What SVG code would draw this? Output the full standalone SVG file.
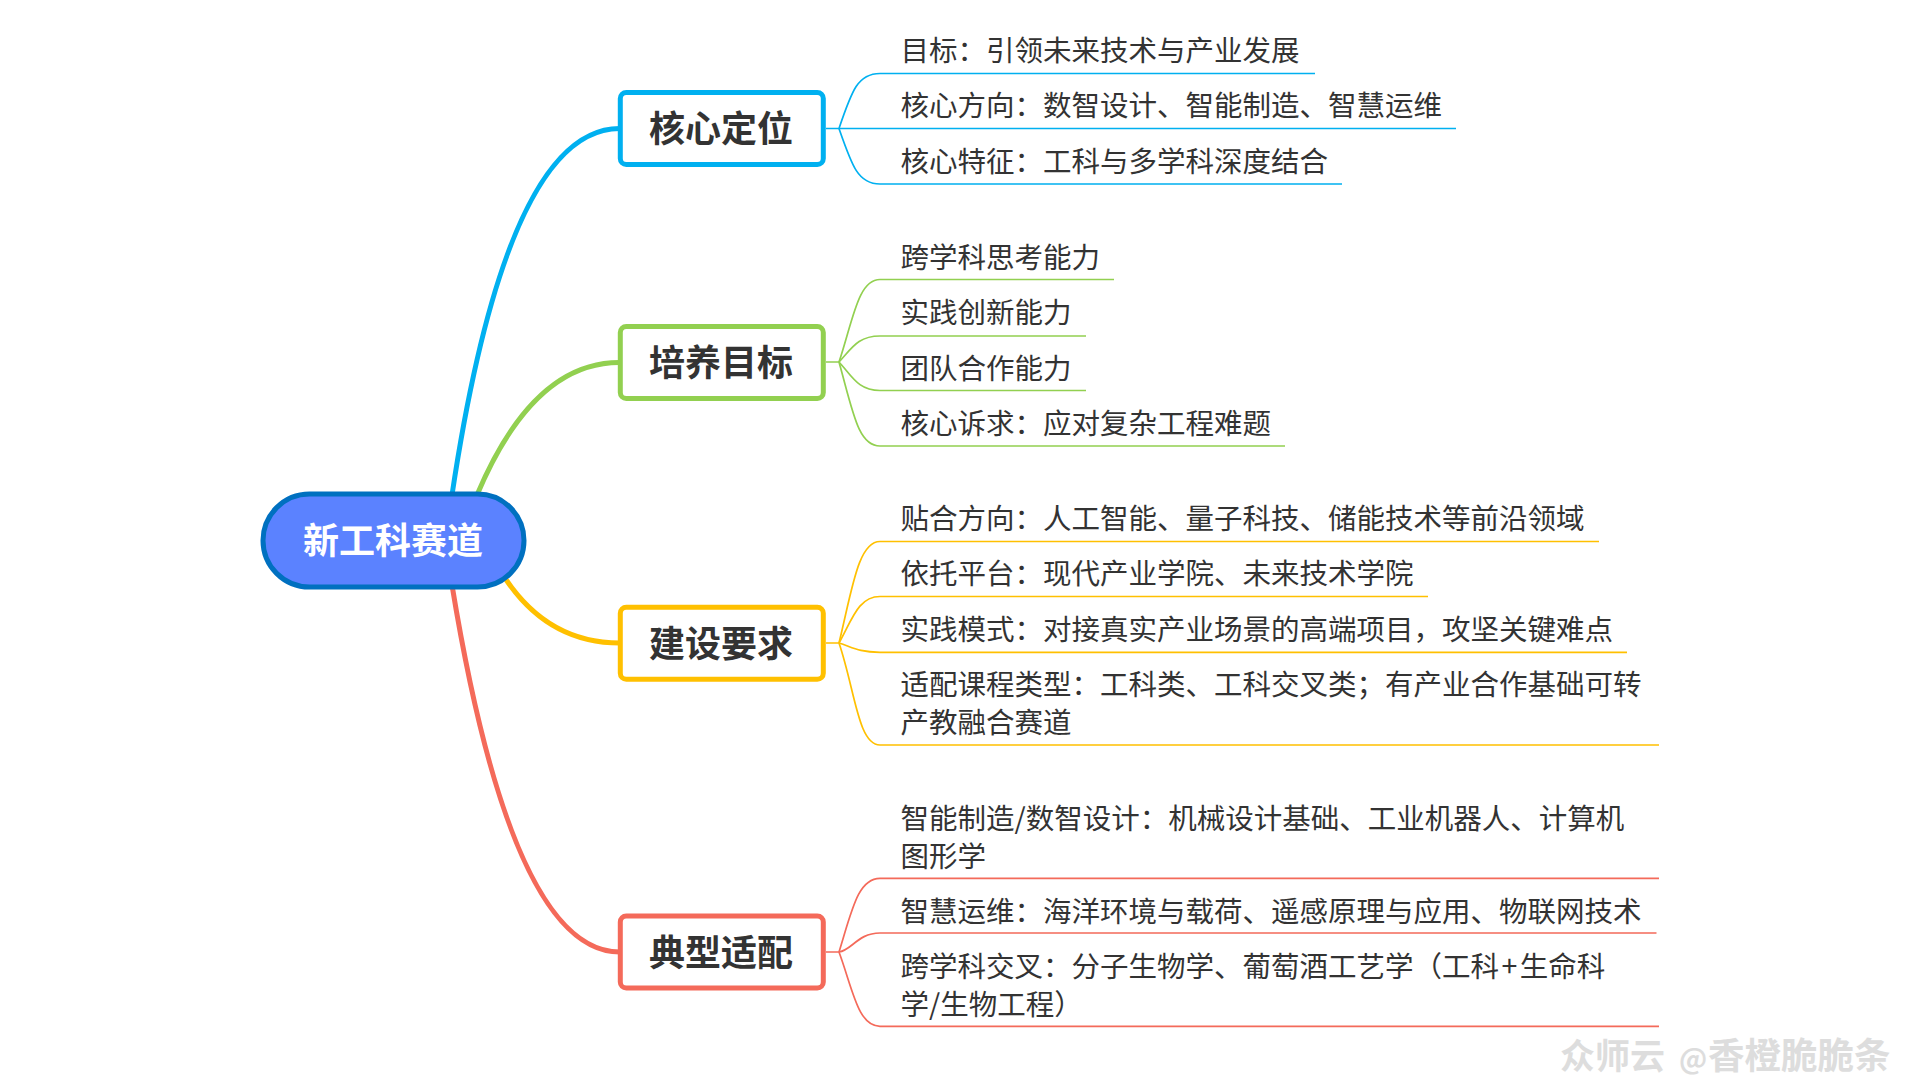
<svg xmlns="http://www.w3.org/2000/svg" width="1920" height="1080" viewBox="0 0 1920 1080">
<style>
text{font-family:"Noto Sans CJK SC","Liberation Sans",sans-serif}
.leaf{font-size:28.5px;fill:#333}
.nt{font-size:36px;font-weight:700;fill:#333;text-anchor:middle}
.box{fill:#fff;stroke-width:5}
.main{fill:none;stroke-width:5}
.sub{fill:none;stroke-width:1.7}
.b{stroke:#00B0F0}.g{stroke:#92D050}.y{stroke:#FFC000}.r{stroke:#F46A5A}
</style>
<rect width="1920" height="1080" fill="#fff"/>
<g id="connectors">
<path class="main b" d="M452 495Q507 128 620 128.500"/>
<path class="main g" d="M477 495Q533 362 620 362.500"/>
<path class="main y" d="M505 578Q548 643 620 643"/>
<path class="main r" d="M452 585Q512 952 620 952"/>
<path class="sub b" d="M826 128.500H839C852 90 858 73.500 880 73.500H1315"/>
<path class="sub b" d="M839 128.500H1456"/>
<path class="sub b" d="M839 128.500C852 166 858 184 880 184H1342"/>
<path class="sub g" d="M826 362H839C853 320 858 279.500 880 279.500H1114"/>
<path class="sub g" d="M839 362C852 348 858 336 880 336H1086"/>
<path class="sub g" d="M839 362C852 376 858 390.500 880 390.500H1086"/>
<path class="sub g" d="M839 362C853 412 858 446 880 446H1285"/>
<path class="sub y" d="M826 643H839C852 590 858 541.500 880 541.500H1599"/>
<path class="sub y" d="M839 643C852 620 858 596.500 880 596.500H1428"/>
<path class="sub y" d="M839 643C852 647 858 652.300 880 652.300H1627"/>
<path class="sub y" d="M839 643C855 690 858 745 880 745H1659"/>
<path class="sub r" d="M826 952H839C852 910 858 878.300 880 878.300H1659"/>
<path class="sub r" d="M839 952C852 950 858 933 880 933H1656.500"/>
<path class="sub r" d="M839 952C853 990 858 1026.300 880 1026.300H1659"/>
</g>
<g id="center"><rect x="263" y="494" width="261" height="93" rx="46.500" fill="#5B82FF" stroke="#0070C0" stroke-width="5"/><text class="nt" x="393" y="554" style="fill:#fff">新工科赛道</text></g>
<g id="node-1"><rect class="box b" x="620.300" y="92.500" width="203" height="72" rx="6"/><text class="nt" x="721" y="142">核心定位</text>
<text class="leaf" x="900.500" y="61">目标：引领未来技术与产业发展</text>
<text class="leaf" x="900.500" y="116">核心方向：数智设计、智能制造、智慧运维</text>
<text class="leaf" x="900.500" y="171.500">核心特征：工科与多学科深度结合</text></g>
<g id="node-2"><rect class="box g" x="620.300" y="326.500" width="203" height="72" rx="6"/><text class="nt" x="721" y="376">培养目标</text>
<text class="leaf" x="900.500" y="268">跨学科思考能力</text>
<text class="leaf" x="900.500" y="323">实践创新能力</text>
<text class="leaf" x="900.500" y="379">团队合作能力</text>
<text class="leaf" x="900.500" y="434">核心诉求：应对复杂工程难题</text></g>
<g id="node-3"><rect class="box y" x="620.300" y="607.300" width="203" height="72" rx="6"/><text class="nt" x="721" y="657">建设要求</text>
<text class="leaf" x="900.500" y="528.500">贴合方向：人工智能、量子科技、储能技术等前沿领域</text>
<text class="leaf" x="900.500" y="584">依托平台：现代产业学院、未来技术学院</text>
<text class="leaf" x="900.500" y="639.500">实践模式：对接真实产业场景的高端项目，攻坚关键难点</text>
<text class="leaf" x="900.500" y="695">适配课程类型：工科类、工科交叉类；有产业合作基础可转</text>
<text class="leaf" x="900.500" y="733">产教融合赛道</text></g>
<g id="node-4"><rect class="box r" x="620.300" y="916" width="203" height="72" rx="6"/><text class="nt" x="721" y="966">典型适配</text>
<text class="leaf" x="900.500" y="829">智能制造/数智设计：机械设计基础、工业机器人、计算机</text>
<text class="leaf" x="900.500" y="867">图形学</text>
<text class="leaf" x="900.500" y="922">智慧运维：海洋环境与载荷、遥感原理与应用、物联网技术</text>
<text class="leaf" x="900.500" y="977">跨学科交叉：分子生物学、葡萄酒工艺学（工科<tspan dx="2.500">+</tspan><tspan dx="2.500">生命科</tspan></text>
<text class="leaf" x="900.500" y="1015">学/生物工程）</text></g>
<text x="1560" y="1069" font-size="35" font-weight="700" fill="#DDDDDD">众师云</text>
<text x="1679" y="1069" font-size="28" font-weight="700" fill="#DDDDDD">@</text>
<text x="1708" y="1069" font-size="36.500" font-weight="700" fill="#DDDDDD">香橙脆脆条</text>
</svg>
